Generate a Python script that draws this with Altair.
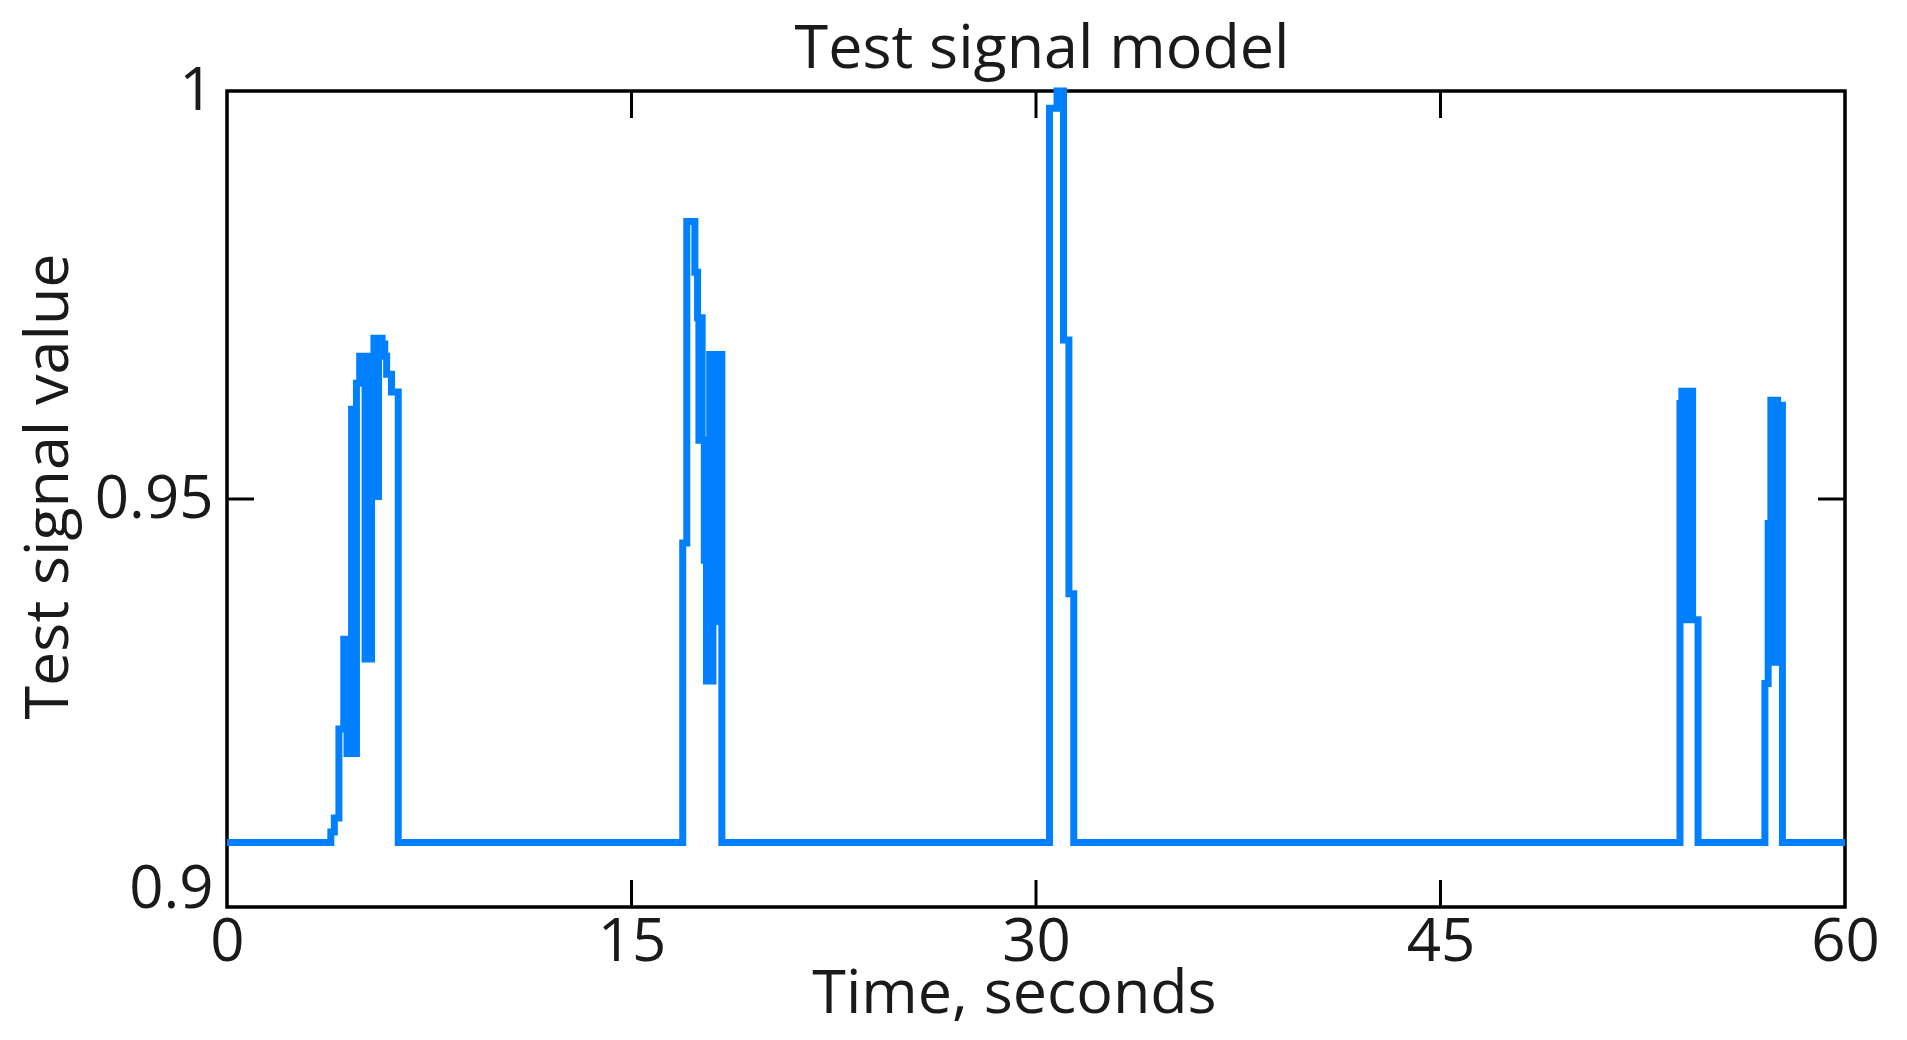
import altair as alt
import pandas as pd

# Step signal: change times (s) and the value held from each time onward
times = [0.0,
         3.85, 3.98, 4.15, 4.33, 4.45, 4.55, 4.62, 4.72, 4.80, 4.92, 5.12, 5.20, 5.28, 5.36,
         5.45, 5.55, 5.62, 5.75, 5.85, 5.92, 6.10, 6.35,
         16.90, 17.05, 17.35, 17.45, 17.50, 17.55, 17.62, 17.70, 17.78, 17.90, 17.95, 18.02,
         18.10, 18.15, 18.35,
         30.50, 30.78, 31.02, 31.22, 31.40,
         53.88, 53.95, 54.05, 54.12, 54.20, 54.27, 54.35, 54.55,
         57.03, 57.15, 57.25, 57.35, 57.42, 57.50, 57.55, 57.68,
         60.0]
values = [0.9079,
          0.9092, 0.9109, 0.9218, 0.9328, 0.9188, 0.9328, 0.9610, 0.9188, 0.9642, 0.9675, 0.9304, 0.9660, 0.9304, 0.9675,
          0.9697, 0.9503, 0.9697, 0.9690, 0.9675, 0.9653, 0.9631, 0.9079,
          0.9446, 0.9840, 0.9778, 0.9722, 0.9572, 0.9722, 0.9572, 0.9425, 0.9277, 0.9677, 0.9277, 0.9677,
          0.9350, 0.9677, 0.9079,
          0.9979, 1.0000, 0.9695, 0.9384, 0.9079,
          0.9617, 0.9632, 0.9352, 0.9632, 0.9352, 0.9632, 0.9352, 0.9079,
          0.9274, 0.9470, 0.9621, 0.9300, 0.9621, 0.9300, 0.9615, 0.9079,
          0.9079]

x_ticks = [0, 15, 30, 45, 60]
y_ticks = [0.9, 0.95, 1.0]
x_inner_ticks = [15, 30, 45]
y_inner_ticks = [0.95]

W, H = 1618, 816
FONT = "Open Sans"
TXT = "#1a1a1a"

df = pd.DataFrame({"t": times, "v": values})
xs = alt.Scale(domain=[0, 60], nice=False)
ys = alt.Scale(domain=[0.9, 1.0], nice=False)

line = alt.Chart(df).mark_line(color="#0080ff", strokeWidth=7, interpolate="step-after").encode(
    x=alt.X("t:Q", scale=xs,
            axis=alt.Axis(values=x_ticks, title="Time, seconds", format="d", tickSize=0,
                          domain=False, grid=False, labelPadding=6, titlePadding=-8,
                          labelFlush=False, titleX=787,
                          labelFontSize=60, titleFontSize=61, labelFont=FONT, titleFont=FONT,
                          titleFontWeight="normal", labelColor=TXT, titleColor=TXT)),
    y=alt.Y("v:Q", scale=ys,
            axis=alt.Axis(values=y_ticks, title="Test signal value", format=".2~g", tickSize=0,
                          domain=False, grid=False, labelPadding=14, titlePadding=14,
                          labelFlush=False, titleY=395,
                          labelFontSize=60, titleFontSize=61, labelFont=FONT, titleFont=FONT,
                          titleFontWeight="normal", labelColor=TXT, titleColor=TXT,
                          labelBaseline={"condition": {"test": "datum.value <= 0.9", "value": "alphabetic"},
                                         "value": "middle"})),
)

tx = pd.DataFrame({"t": x_inner_ticks})
ty = pd.DataFrame({"v": y_inner_ticks})
tick_len = 27
bx = alt.Chart(tx).mark_rule(color="black", strokeWidth=3).encode(
    x=alt.X("t:Q", scale=xs), y=alt.value(H), y2=alt.value(H - tick_len))
tpx = alt.Chart(tx).mark_rule(color="black", strokeWidth=3).encode(
    x=alt.X("t:Q", scale=xs), y=alt.value(0), y2=alt.value(tick_len))
ly = alt.Chart(ty).mark_rule(color="black", strokeWidth=3).encode(
    y=alt.Y("v:Q", scale=ys), x=alt.value(0), x2=alt.value(tick_len))
ry = alt.Chart(ty).mark_rule(color="black", strokeWidth=3).encode(
    y=alt.Y("v:Q", scale=ys), x=alt.value(W - tick_len), x2=alt.value(W))

chart = alt.layer(bx, tpx, ly, ry, line).properties(
    width=W, height=H,
    title=alt.TitleParams("Test signal model", fontSize=61, font=FONT, fontWeight="normal",
                          color=TXT, offset=10, dy=30, dx=6),
    autosize=alt.AutoSizeParams(type="none"),
    padding={"left": 219, "top": 83, "right": 40, "bottom": 130},
).configure(background="white").configure_view(stroke="black", strokeWidth=3.5)

chart.save("out.html", embed_options={"renderer": "svg", "actions": False})
